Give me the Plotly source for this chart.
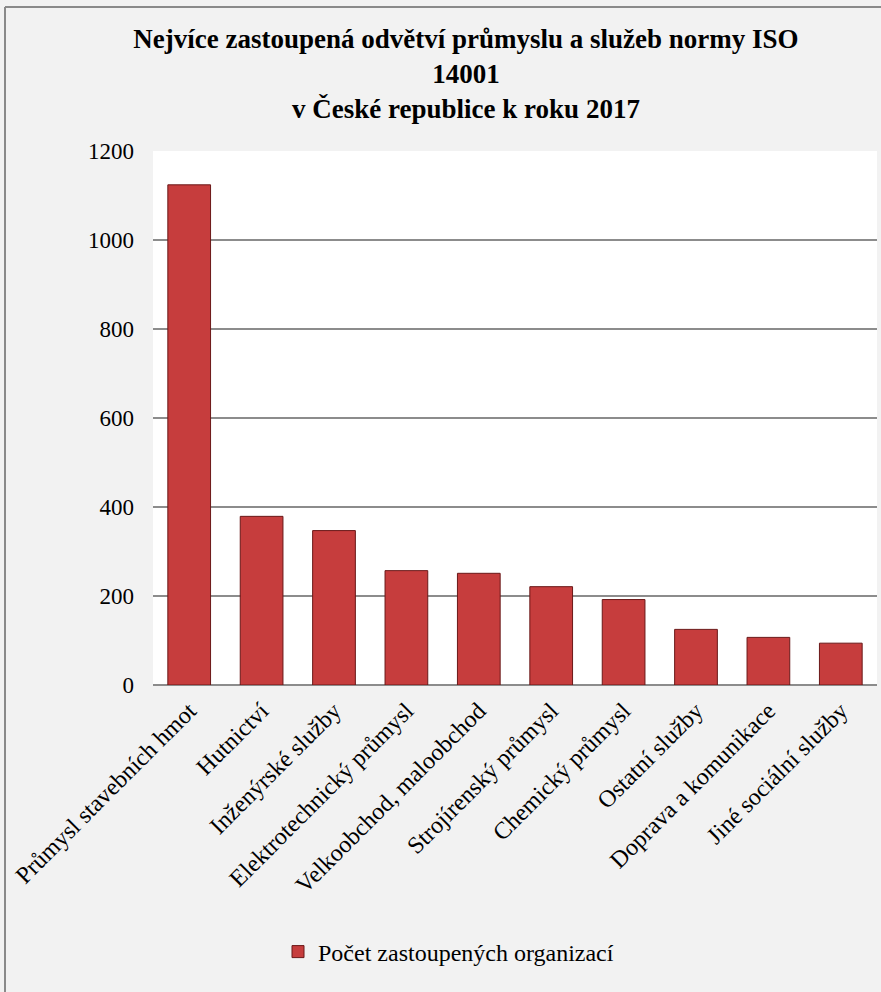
import plotly.graph_objects as go

categories = [
    "Průmysl stavebních hmot",
    "Hutnictví",
    "Inženýrské služby",
    "Elektrotechnický průmysl",
    "Velkoobchod, maloobchod",
    "Strojírenský průmysl",
    "Chemický průmysl",
    "Ostatní služby",
    "Doprava a komunikace",
    "Jiné sociální služby",
]
values = [1124, 379, 347, 257, 251, 221, 192, 125, 107, 94]
series_name = "Počet zastoupených organizací"
title_text = ("<b>Nejvíce zastoupená odvětví průmyslu a služeb normy ISO<br>"
              "14001<br>v České republice k roku 2017</b>")
y_ticks = [0, 200, 400, 600, 800, 1000, 1200]

W, H = 881, 992
L, R, T, B = 153, 4, 151, 307
pw = W - L - R
ph = H - T - B

FONT = "Liberation Serif"

fig = go.Figure()
fig.add_trace(go.Bar(
    x=categories, y=values, name=series_name,
    marker=dict(color="#c63d3d", line=dict(color="#6a1818", width=1)),
    showlegend=True,
))

# outer chart border (left and top edges visible)
bx = (5 - L) / pw
by_top = (H - B - 7) / ph
by_bot = (H - B - H - 5) / ph
fig.add_shape(type="line", xref="paper", yref="paper", x0=bx, x1=bx,
              y0=by_bot, y1=by_top, line=dict(color="#8a8a8a", width=2), layer="below")
fig.add_shape(type="line", xref="paper", yref="paper", x0=bx, x1=(W + 5 - L) / pw,
              y0=by_top, y1=by_top, line=dict(color="#8a8a8a", width=2), layer="below")

fig.update_layout(
    width=W, height=H,
    margin=dict(l=L, r=R, t=T, b=B, pad=0),
    paper_bgcolor="#f2f2f2",
    plot_bgcolor="#ffffff",
    font=dict(family=FONT, color="#000000", size=22),
    bargap=0.41,
    title=dict(text=title_text, x=466 / W, xanchor="center", xref="container",
               y=1 - 48 / H, yanchor="top", yref="container",
               font=dict(family=FONT, size=27, color="#000000")),
    legend=dict(orientation="h", x=(278 - L) / pw, xanchor="left",
                y=(H - B - 952) / ph, yanchor="middle",
                font=dict(family=FONT, size=24, color="#000000"),
                bgcolor="rgba(0,0,0,0)"),
    showlegend=True,
)
fig.update_yaxes(range=[0, 1200], tickvals=y_ticks, ticktext=[str(v) for v in y_ticks],
                 showgrid=True, gridcolor="#8c8c8c", gridwidth=1.5,
                 zeroline=True, zerolinecolor="#8c8c8c", zerolinewidth=1.5,
                 showline=False, ticks="", ticklabelstandoff=18,
                 tickfont=dict(family=FONT, size=23, color="#000000"))
fig.update_xaxes(tickangle=-45, showgrid=False, showline=False, ticks="",
                 tickfont=dict(family=FONT, size=24, color="#000000"),
                 ticklabelstandoff=6)

fig.write_html("out.html")
